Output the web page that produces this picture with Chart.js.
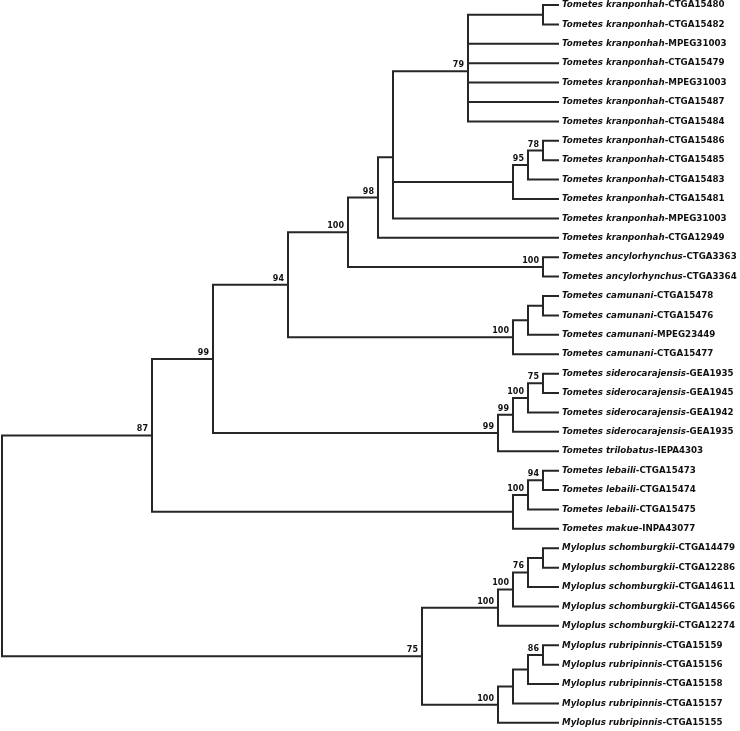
<!DOCTYPE html>
<html>
<head>
<meta charset="utf-8">
<script src="https://cdn.jsdelivr.net/npm/chart.js@4"></script>
<style>
  html, body { margin: 0; padding: 0; background: #fff; }
  #wrap { width: 740px; height: 731px; }
</style>
</head>
<body>
<div id="wrap"><canvas id="tree"></canvas></div>
<script>
// tips, top to bottom
const tipSpecies = [
  'Tometes kranponhah', 'Tometes kranponhah', 'Tometes kranponhah', 'Tometes kranponhah',
  'Tometes kranponhah', 'Tometes kranponhah', 'Tometes kranponhah', 'Tometes kranponhah',
  'Tometes kranponhah', 'Tometes kranponhah', 'Tometes kranponhah', 'Tometes kranponhah',
  'Tometes kranponhah', 'Tometes ancylorhynchus', 'Tometes ancylorhynchus',
  'Tometes camunani', 'Tometes camunani', 'Tometes camunani', 'Tometes camunani',
  'Tometes siderocarajensis', 'Tometes siderocarajensis', 'Tometes siderocarajensis',
  'Tometes siderocarajensis', 'Tometes trilobatus',
  'Tometes lebaili', 'Tometes lebaili', 'Tometes lebaili', 'Tometes makue',
  'Myloplus schomburgkii', 'Myloplus schomburgkii', 'Myloplus schomburgkii',
  'Myloplus schomburgkii', 'Myloplus schomburgkii',
  'Myloplus rubripinnis', 'Myloplus rubripinnis', 'Myloplus rubripinnis',
  'Myloplus rubripinnis', 'Myloplus rubripinnis'
];
const tipCodes = [
  'CTGA15480', 'CTGA15482', 'MPEG31003', 'CTGA15479', 'MPEG31003', 'CTGA15487', 'CTGA15484',
  'CTGA15486', 'CTGA15485', 'CTGA15483', 'CTGA15481', 'MPEG31003', 'CTGA12949',
  'CTGA3363', 'CTGA3364',
  'CTGA15478', 'CTGA15476', 'MPEG23449', 'CTGA15477',
  'GEA1935', 'GEA1945', 'GEA1942', 'GEA1935', 'IEPA4303',
  'CTGA15473', 'CTGA15474', 'CTGA15475', 'INPA43077',
  'CTGA14479', 'CTGA12286', 'CTGA14611', 'CTGA14566', 'CTGA12274',
  'CTGA15159', 'CTGA15156', 'CTGA15158', 'CTGA15157', 'CTGA15155'
];
const tipParent = [
  'n12', 'n12', 'F', 'F', 'F', 'F', 'F', 'K', 'K', 'I', 'J', 'G', 'E',
  'anc', 'anc', 'L', 'L', 'M', 'N', 'Q', 'Q', 'S', 'T', 'P',
  'V', 'V', 'W', 'U', 'X1', 'X1', 'X2', 'X3', 'X4', 'Z1', 'Z1', 'Z2', 'Z3', 'Z'
];
const tipDepth = 556;

// internal nodes
const nodeNames   = ['R', 'A', 'B', 'C', 'D', 'E', 'G', 'F', 'n12', 'J', 'I', 'K', 'anc', 'N', 'M', 'L',
                     'P', 'T', 'S', 'Q', 'U', 'W', 'V', 'Y', 'X4', 'X3', 'X2', 'X1', 'Z', 'Z3', 'Z2', 'Z1'];
const nodeParent  = [null, 'R', 'A', 'B', 'C', 'D', 'E', 'G', 'F', 'G', 'J', 'I', 'D', 'C', 'N', 'M',
                     'B', 'P', 'T', 'S', 'A', 'U', 'W', 'R', 'Y', 'X4', 'X3', 'X2', 'Y', 'Z', 'Z3', 'Z2'];
const nodeDepth   = [0, 150, 211, 286, 346, 376, 391, 466, 541, 511, 526, 541, 541, 511, 526, 541,
                     496, 511, 526, 541, 511, 526, 541, 420, 496, 511, 526, 541, 496, 511, 526, 541];
const nodeSupport = [null, 87, 99, 94, 100, 98, null, 79, null, null, 95, 78, 100, 100, null, null,
                     99, 99, 100, 75, null, 100, 94, 75, 100, 100, 76, null, 100, null, null, 86];

// layout: tips at their row, internal nodes at the mean of their children
const pos = {};
tipCodes.forEach((c, i) => { pos['t' + i] = { x: tipDepth, y: i + 1, parent: tipParent[i] }; });
nodeNames.forEach((n, i) => { pos[n] = { x: nodeDepth[i], y: null, parent: nodeParent[i], support: nodeSupport[i] }; });

function nodeY(name) {
  const p = pos[name];
  if (p.y !== null) return p.y;
  const kids = Object.keys(pos).filter(k => pos[k].parent === name);
  p.y = kids.reduce((s, k) => s + nodeY(k), 0) / kids.length;
  return p.y;
}
Object.keys(pos).forEach(nodeY);

const lineColor = '#262626';
const datasets = Object.keys(pos).filter(k => pos[k].parent).map(k => {
  const c = pos[k], p = pos[c.parent];
  return {
    data: [{ x: p.x, y: p.y }, { x: p.x, y: c.y }, { x: c.x, y: c.y }],
    showLine: true,
    borderColor: lineColor,
    borderWidth: 2,
    pointRadius: 0,
    tension: 0,
    borderCapStyle: 'square',
    borderJoinStyle: 'miter'
  };
});

const labels = {
  id: 'treeLabels',
  afterDatasetsDraw(chart) {
    const { ctx, scales: { x, y } } = chart;
    ctx.save();
    ctx.fillStyle = '#111';
    ctx.textBaseline = 'middle';
    ctx.textAlign = 'left';
    tipCodes.forEach((code, i) => {
      const px = x.getPixelForValue(tipDepth) + 4;
      const py = y.getPixelForValue(i + 1);
      ctx.font = 'italic bold 8.7px "DejaVu Sans"';
      ctx.fillText(tipSpecies[i], px, py);
      const w = ctx.measureText(tipSpecies[i]).width;
      ctx.font = 'bold 8.7px "DejaVu Sans"';
      ctx.fillText('-' + code, px + w, py);
    });
    ctx.font = 'bold 8px "DejaVu Sans"';
    ctx.textAlign = 'right';
    ctx.textBaseline = 'alphabetic';
    nodeNames.forEach(n => {
      const p = pos[n];
      if (p.support == null) return;
      ctx.fillText(String(p.support), x.getPixelForValue(p.x) - 4, y.getPixelForValue(p.y) - 4);
    });
    ctx.restore();
  }
};

new Chart(document.getElementById('tree'), {
  type: 'scatter',
  data: { datasets },
  options: {
    responsive: true,
    maintainAspectRatio: false,
    animation: false,
    events: [],
    layout: { padding: 0 },
    plugins: { legend: { display: false }, tooltip: { enabled: false } },
    scales: {
      x: { display: false, min: -2, max: 738 },
      y: { display: false, reverse: true, min: 0.742, max: 38.42 }
    }
  },
  plugins: [labels]
});
</script>
</body>
</html>
